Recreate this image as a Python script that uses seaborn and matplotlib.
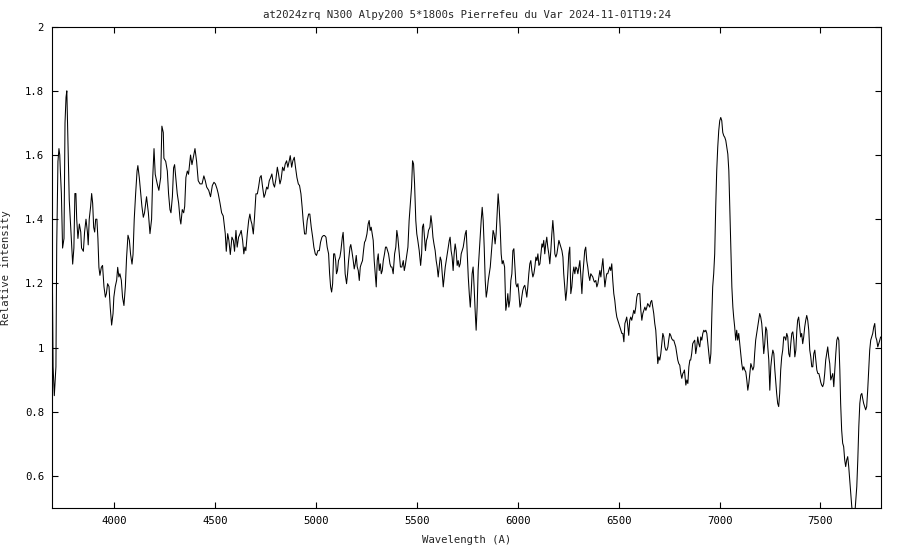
import matplotlib
matplotlib.use("Agg")
import matplotlib.pyplot as plt
import seaborn as sns
import pandas as pd

# spectrum (wavelength in A, relative intensity)
wavelength = [
    3695, 3698, 3704, 3712, 3716, 3722, 3727, 3731, 3734, 3739, 3745, 3752, 3757, 3762, 3766,
    3773, 3778, 3785, 3792, 3795, 3801, 3806, 3811, 3815, 3821, 3828, 3835, 3839, 3848, 3854,
    3861, 3868, 3872, 3877, 3884, 3889, 3894, 3899, 3904, 3909, 3915, 3920, 3925, 3930, 3937,
    3943, 3950, 3957, 3962, 3968, 3975, 3981, 3988, 3995, 3999, 4006, 4013, 4018, 4024, 4029,
    4036, 4042, 4049, 4056, 4062, 4069, 4076, 4082, 4089, 4094, 4100, 4107, 4114, 4118, 4125,
    4132, 4138, 4145, 4151,
    4161, 4170, 4178, 4186, 4191, 4198, 4204, 4214, 4222, 4231, 4237, 4244, 4247, 4256, 4264,
    4270, 4277, 4282, 4289, 4295, 4300, 4307, 4313, 4320, 4327, 4331, 4338, 4345, 4350, 4356,
    4363, 4369, 4379, 4386, 4401, 4409, 4417, 4426, 4436, 4445, 4452, 4459, 4469, 4478, 4487,
    4495, 4502, 4510, 4516, 4525, 4533, 4541, 4551, 4556, 4563, 4569, 4576, 4584, 4591, 4597,
    4604, 4610, 4617, 4624, 4630, 4637, 4643, 4648, 4653, 4660, 4667, 4673, 4678, 4683, 4690,
    4696, 4703, 4710, 4716, 4723, 4729, 4736, 4743, 4749, 4756, 4762, 4769, 4776, 4782, 4789,
    4795, 4802, 4809, 4815, 4822, 4828, 4835, 4842, 4848, 4855, 4861, 4868, 4873, 4880, 4886,
    4893, 4899, 4906, 4913, 4919, 4926, 4932, 4937, 4944, 4951, 4957, 4964, 4970, 4977, 4984,
    4990, 4997, 5003, 5010, 5017, 5023, 5030, 5037, 5043,
    5050, 5056, 5063, 5068, 5073, 5078, 5083, 5088, 5093, 5098, 5102, 5107, 5112, 5119, 5124,
    5131, 5135, 5140, 5145, 5152, 5157, 5162, 5169, 5173, 5178, 5185, 5190, 5195, 5200, 5205,
    5210, 5215, 5220, 5225, 5231, 5236, 5241, 5246, 5253, 5259, 5264, 5269, 5274, 5279, 5284,
    5289, 5294, 5299, 5304, 5309, 5314, 5319, 5324, 5329, 5334, 5340, 5345, 5350, 5355, 5360,
    5367, 5372, 5377, 5383, 5390, 5396, 5401, 5406, 5413, 5419, 5426, 5433, 5438, 5443, 5449,
    5456, 5462, 5469, 5474, 5479, 5484, 5489,
    5495, 5500, 5505, 5512, 5519, 5524, 5528, 5533, 5538, 5543, 5548, 5553, 5558, 5565, 5570,
    5575, 5580, 5585, 5591, 5596, 5601, 5606, 5611, 5616, 5621, 5626, 5631, 5636, 5641, 5646,
    5651, 5656, 5661, 5665, 5670, 5675, 5680, 5685, 5690, 5695, 5700, 5705, 5710, 5715, 5720,
    5725, 5730, 5735, 5740, 5745, 5750, 5755, 5760, 5765, 5770, 5774, 5779, 5784, 5789, 5794,
    5799, 5804, 5809, 5814, 5819, 5824, 5829, 5834, 5839, 5844, 5849, 5854, 5859, 5864, 5869,
    5874, 5878, 5883, 5888, 5893, 5898, 5903, 5908, 5913, 5918, 5923, 5928, 5935,
    5941, 5946, 5951, 5956, 5961, 5966, 5971, 5976, 5981, 5986, 5991, 5996, 6001, 6006, 6011,
    6016, 6020, 6025, 6030, 6035, 6040, 6045, 6050, 6055, 6060, 6065, 6070, 6075, 6080, 6085,
    6090, 6095, 6100, 6105, 6110, 6115, 6120, 6124, 6129, 6134, 6139, 6144, 6149, 6154, 6159,
    6164, 6169, 6174, 6179, 6184, 6189, 6194, 6199, 6204, 6209, 6214, 6219, 6224, 6228, 6233,
    6238, 6243, 6248, 6253, 6258, 6263, 6268, 6273, 6278, 6283, 6288, 6293, 6298, 6303, 6308,
    6313, 6318, 6323, 6328, 6332, 6337, 6342, 6347, 6352, 6357, 6362, 6367, 6372, 6377, 6380,
    6387, 6392, 6397, 6402, 6407, 6412, 6417, 6422, 6427, 6432, 6436, 6441, 6446, 6451, 6456,
    6461, 6466, 6471, 6476, 6481, 6486, 6491, 6496, 6501, 6506, 6511, 6516, 6521, 6526, 6531,
    6536, 6540, 6545, 6550, 6555, 6560, 6565, 6570, 6575, 6580, 6585, 6590, 6595, 6600, 6605,
    6610, 6615, 6620, 6625, 6630, 6635, 6640, 6644, 6649, 6654, 6659, 6664, 6669, 6674, 6679,
    6684, 6689, 6694, 6699, 6704, 6709, 6714, 6719, 6724, 6729, 6734, 6739, 6744, 6748, 6753,
    6758, 6763, 6768, 6773, 6778, 6783, 6788, 6793, 6798, 6803, 6808, 6813, 6818, 6823, 6826,
    6833, 6838, 6843, 6848, 6853, 6857, 6862, 6867, 6872, 6877, 6882, 6887, 6892, 6897, 6902,
    6907, 6912, 6917, 6922, 6927, 6932, 6937, 6942, 6947, 6952, 6957, 6962, 6966, 6971, 6976,
    6981, 6986, 6991, 6996, 7001, 7006, 7011, 7016, 7021, 7026, 7031, 7036, 7041, 7046, 7051,
    7056, 7061, 7066, 7070, 7075, 7080, 7085, 7090, 7095, 7100, 7105, 7110, 7115, 7120, 7125,
    7130, 7135, 7140, 7145, 7150, 7155, 7160, 7165, 7170, 7174, 7179, 7184, 7189, 7194, 7199,
    7204, 7209, 7214, 7219, 7224, 7229, 7234, 7239, 7244, 7249, 7254, 7259,
    7264, 7269, 7274, 7279, 7283, 7288, 7293, 7298, 7303, 7308, 7313, 7318, 7323, 7328, 7333,
    7338, 7343, 7348, 7353, 7358, 7363, 7368, 7373, 7378, 7383, 7387, 7392, 7397, 7402, 7407,
    7412, 7417, 7422, 7427, 7432, 7437, 7442, 7447, 7452, 7457, 7462, 7467, 7472, 7477, 7482,
    7487, 7492, 7496, 7501, 7506, 7511, 7516, 7521, 7526, 7531, 7536, 7541, 7546, 7551, 7556,
    7561, 7566, 7571, 7576, 7581, 7586, 7591, 7596, 7600, 7605, 7610, 7615, 7620, 7625, 7630,
    7635, 7640, 7645, 7650, 7655, 7660, 7665, 7670, 7675, 7680, 7685, 7690, 7695, 7700, 7705,
    7709, 7714, 7719, 7724, 7729, 7734, 7739, 7744, 7749, 7754, 7759, 7764, 7769, 7774, 7779,
    7784, 7789, 7794, 7798,
]

intensity = [
    1.17, 0.94, 0.85, 0.94, 1.32, 1.58, 1.62, 1.60, 1.55, 1.48, 1.31, 1.34, 1.70, 1.78, 1.80,
    1.61, 1.46, 1.375, 1.29, 1.26, 1.31, 1.48, 1.48, 1.40, 1.34, 1.385, 1.36, 1.31, 1.30, 1.36,
    1.40, 1.36, 1.32, 1.40, 1.44, 1.48, 1.45, 1.375, 1.36, 1.40, 1.40, 1.34, 1.25, 1.225, 1.25,
    1.256, 1.19, 1.157, 1.168, 1.199, 1.19, 1.126, 1.07, 1.106, 1.157, 1.19, 1.21, 1.25, 1.22, 1.23,
    1.21, 1.157, 1.131, 1.19, 1.28, 1.35, 1.334, 1.29, 1.26, 1.29, 1.40, 1.48, 1.55, 1.567, 1.53,
    1.48, 1.44, 1.406, 1.42,
    1.47, 1.42, 1.355, 1.40, 1.52, 1.62, 1.54, 1.51, 1.49, 1.53, 1.69, 1.67, 1.59, 1.58, 1.55,
    1.48, 1.43, 1.42, 1.47, 1.56, 1.57, 1.52, 1.48, 1.45, 1.40, 1.385, 1.43, 1.42, 1.44, 1.53,
    1.55, 1.54, 1.60, 1.57, 1.62, 1.58, 1.52, 1.51, 1.51, 1.535, 1.52, 1.50, 1.49, 1.47, 1.505,
    1.515, 1.51, 1.495, 1.48, 1.45, 1.42, 1.41, 1.355, 1.30, 1.355, 1.334, 1.29, 1.344, 1.334, 1.30,
    1.365, 1.313, 1.344, 1.354, 1.365, 1.334, 1.292, 1.313, 1.302, 1.354, 1.396, 1.416, 1.396, 1.385, 1.354,
    1.406, 1.479, 1.479, 1.50, 1.53, 1.536, 1.50, 1.468, 1.479, 1.50, 1.494, 1.52, 1.53, 1.541, 1.51,
    1.50, 1.525, 1.562, 1.541, 1.51, 1.525, 1.562, 1.551, 1.572, 1.582, 1.562, 1.582, 1.598, 1.562, 1.582,
    1.593, 1.562, 1.53, 1.51, 1.505, 1.479, 1.437, 1.396, 1.354, 1.354, 1.396, 1.416, 1.416, 1.375, 1.344,
    1.313, 1.292, 1.287, 1.302, 1.302, 1.328, 1.344, 1.349, 1.349,
    1.344, 1.313, 1.292, 1.23, 1.189, 1.173, 1.199, 1.292, 1.292, 1.271, 1.23, 1.24, 1.271, 1.282, 1.302,
    1.344, 1.359, 1.302, 1.23, 1.199, 1.23, 1.271, 1.313, 1.321, 1.302, 1.271, 1.245, 1.261, 1.287, 1.251,
    1.24, 1.209, 1.251, 1.261, 1.271, 1.302, 1.328, 1.334, 1.354, 1.385, 1.396, 1.365, 1.375, 1.354, 1.334,
    1.271, 1.23, 1.189, 1.271, 1.292, 1.24, 1.261, 1.23, 1.24, 1.271, 1.292, 1.313, 1.313, 1.302, 1.292,
    1.261, 1.251, 1.251, 1.23, 1.292, 1.313, 1.365, 1.344, 1.292, 1.251, 1.251, 1.271, 1.24, 1.256, 1.282,
    1.313, 1.396, 1.458, 1.50, 1.582, 1.572, 1.51,
    1.396, 1.354, 1.334, 1.302, 1.256, 1.292, 1.375, 1.385, 1.344, 1.302, 1.334, 1.344, 1.365, 1.375, 1.411,
    1.385, 1.344, 1.323, 1.302, 1.271, 1.251, 1.22, 1.251, 1.282, 1.271, 1.23, 1.189, 1.22, 1.251, 1.271,
    1.292, 1.313, 1.334, 1.344, 1.302, 1.282, 1.24, 1.292, 1.323, 1.302, 1.256, 1.271, 1.251, 1.261, 1.292,
    1.302, 1.313, 1.334, 1.354, 1.365, 1.292, 1.22, 1.168, 1.126, 1.178, 1.23, 1.251, 1.189, 1.116, 1.054,
    1.126, 1.24, 1.292, 1.344, 1.396, 1.437, 1.396, 1.313, 1.209, 1.157, 1.178, 1.209, 1.23, 1.251, 1.292,
    1.334, 1.365, 1.354, 1.323, 1.354, 1.416, 1.479, 1.437, 1.375, 1.292, 1.261, 1.271, 1.251,
    1.116, 1.137, 1.168, 1.126, 1.147, 1.209, 1.23, 1.302, 1.308, 1.251, 1.199, 1.189, 1.199, 1.168, 1.126,
    1.137, 1.157, 1.178, 1.189, 1.194, 1.178, 1.157, 1.189, 1.23, 1.261, 1.271, 1.24, 1.22, 1.23, 1.251,
    1.282, 1.271, 1.292, 1.256, 1.261, 1.292, 1.323, 1.313, 1.334, 1.292, 1.323, 1.344, 1.313, 1.292, 1.261,
    1.302, 1.354, 1.396, 1.354, 1.292, 1.282, 1.292, 1.313, 1.334, 1.323, 1.313, 1.302, 1.282, 1.23, 1.189,
    1.147, 1.178, 1.23, 1.292, 1.313, 1.168, 1.189, 1.23, 1.251, 1.23, 1.251, 1.246, 1.23, 1.251, 1.271,
    1.22, 1.168, 1.23, 1.271, 1.302, 1.313, 1.271, 1.251, 1.225, 1.209, 1.23, 1.225, 1.22, 1.209, 1.204,
    1.209, 1.189, 1.199, 1.22, 1.24, 1.22, 1.251, 1.277, 1.23, 1.189, 1.209, 1.23, 1.23, 1.24, 1.251,
    1.24, 1.261, 1.209, 1.168, 1.147, 1.116, 1.095, 1.085, 1.075, 1.064, 1.054, 1.044, 1.044, 1.018, 1.075,
    1.085, 1.095, 1.069, 1.038, 1.085, 1.095, 1.085, 1.10, 1.116, 1.106, 1.126, 1.157, 1.168, 1.168, 1.168,
    1.116, 1.085, 1.106, 1.116, 1.126, 1.116, 1.126, 1.137, 1.132, 1.126, 1.142, 1.147, 1.126, 1.106, 1.075,
    1.054, 1.002, 0.95, 0.971, 0.961, 0.981, 1.012, 1.044, 1.033, 1.002, 0.992, 0.992, 1.002, 1.023, 1.044,
    1.038, 1.028, 1.023, 1.023, 1.012, 1.002, 0.981, 0.961, 0.95, 0.945, 0.919, 0.904, 0.919, 0.924, 0.93,
    0.883, 0.899, 0.888, 0.94, 0.961, 0.961, 0.981, 1.012, 1.018, 1.023, 0.981, 1.002, 1.033, 1.012, 1.002,
    1.033, 1.023, 1.044, 1.054, 1.049, 1.054, 1.044, 1.012, 0.981, 0.95, 0.981, 1.106, 1.189, 1.23, 1.292,
    1.437, 1.551, 1.624, 1.676, 1.707, 1.717, 1.707, 1.67, 1.66, 1.655, 1.645, 1.624, 1.603, 1.551, 1.427,
    1.313, 1.189, 1.126, 1.095, 1.064, 1.023, 1.054, 1.023, 1.044, 1.012, 0.981, 0.95, 0.93, 0.94, 0.93,
    0.924, 0.899, 0.867, 0.888, 0.919, 0.95, 0.94, 0.93, 0.94, 0.981, 1.023, 1.044, 1.064, 1.085, 1.106,
    1.095, 1.075, 1.033, 0.981, 1.012, 1.064, 1.054, 1.002, 0.961, 0.867, 0.94, 0.971,
    0.992, 0.981, 0.93, 0.888, 0.857, 0.826, 0.816, 0.857, 0.93, 0.971, 0.992, 1.033, 1.033, 1.023, 1.044,
    1.033, 0.981, 0.971, 1.012, 1.044, 1.049, 1.023, 0.971, 0.992, 1.054, 1.085, 1.095, 1.064, 1.033, 1.044,
    1.012, 1.033, 1.064, 1.085, 1.10, 1.085, 1.054, 0.992, 0.971, 0.94, 0.94, 0.981, 0.992, 0.961, 0.93,
    0.919, 0.919, 0.909, 0.893, 0.883, 0.878, 0.888, 0.919, 0.961, 0.981, 1.002, 0.971, 0.95, 0.899, 0.909,
    0.919, 0.878, 0.93, 0.981, 1.023, 1.033, 1.023, 0.93, 0.826, 0.743, 0.702, 0.691, 0.65, 0.629, 0.65,
    0.66, 0.629, 0.588, 0.546, 0.505, 0.48, 0.47, 0.48, 0.525, 0.567, 0.65, 0.754, 0.826, 0.852, 0.857,
    0.842, 0.826, 0.816, 0.806, 0.816, 0.867, 0.93, 0.992, 1.023, 1.033, 1.044, 1.064, 1.075, 1.033, 1.023,
    1.002, 1.012, 1.023, 1.033,
]

title = "at2024zrq N300 Alpy200 5*1800s Pierrefeu du Var 2024-11-01T19:24"
x_ticks = [4000, 4500, 5000, 5500, 6000, 6500, 7000, 7500]
y_ticks = [0.6, 0.8, 1.0, 1.2, 1.4, 1.6, 1.8, 2.0]
y_tick_labels = ["0.6", "0.8", "1", "1.2", "1.4", "1.6", "1.8", "2"]

df = pd.DataFrame({"wavelength": wavelength, "intensity": intensity})

sns.set_style("ticks")
plt.rcParams["font.family"] = ["DejaVu Sans Mono"]

fig = plt.figure(figsize=(9, 5.5), dpi=100)
ax = fig.add_axes([0.0581, 0.0764, 0.9208, 0.8751])

sns.lineplot(data=df, x="wavelength", y="intensity", ax=ax, color="black",
             linewidth=0.75, estimator=None, sort=False)

ax.set_xlim(3694, 7800)
ax.set_ylim(0.5, 2.0)
ax.set_xticks(x_ticks)
ax.set_xticklabels([str(t) for t in x_ticks])
ax.set_yticks(y_ticks)
ax.set_yticklabels(y_tick_labels)
ax.tick_params(direction="in", length=4, width=0.8, labelsize=7.7, colors="black",
               top=True, right=True, pad=6)
for s in ax.spines.values():
    s.set_linewidth(0.8)
    s.set_color("black")

ax.set_title(title, fontsize=7.7, pad=6)
ax.set_xlabel("Wavelength (A)", fontsize=7.7, labelpad=6)
ax.set_ylabel("Relative intensity", fontsize=7.7, labelpad=10)

fig.savefig("out.png", dpi=100)
